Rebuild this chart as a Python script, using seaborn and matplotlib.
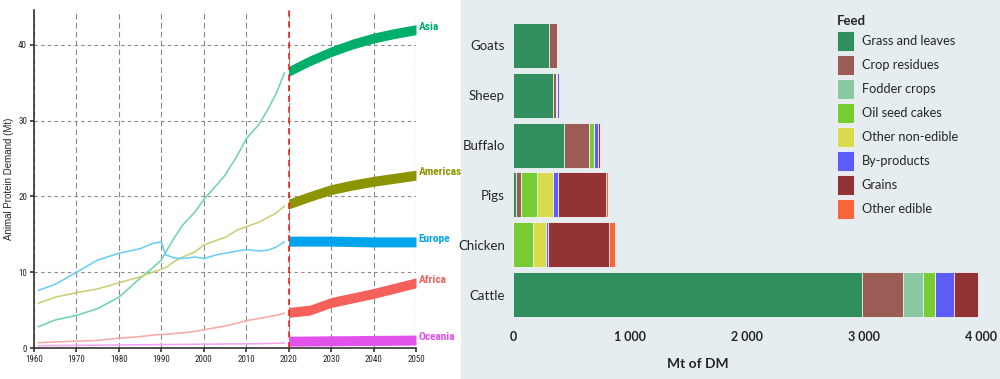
import numpy as np
import pandas as pd
import matplotlib
matplotlib.use("Agg")
import matplotlib.pyplot as plt
import seaborn as sns
from matplotlib.patches import Patch, Rectangle

# ---------------- Left chart data ----------------
hist_years = [1961, 1965, 1970, 1975, 1980, 1985, 1988, 1990, 1991, 1993, 1995,
              1998, 2000, 2003, 2005, 2008, 2010, 2013, 2015, 2017, 2019]
asia_hist = [2.8, 3.7, 4.3, 5.2, 6.7, 9.2, 10.6, 11.6, 12.6, 14.5, 16.2,
             18.0, 19.6, 21.5, 22.8, 25.5, 27.6, 29.5, 31.4, 33.5, 36.3]
americas_hist = [5.9, 6.7, 7.3, 7.8, 8.6, 9.4, 10.0, 10.4, 10.6, 11.4, 12.0,
                 12.7, 13.6, 14.2, 14.6, 15.6, 16.0, 16.6, 17.2, 17.8, 18.7]
europe_hist = [7.6, 8.4, 10.0, 11.6, 12.5, 13.1, 13.8, 14.0, 12.3, 11.9, 11.8,
               12.0, 11.8, 12.3, 12.5, 12.8, 13.0, 12.8, 12.9, 13.3, 14.0]
africa_hist = [0.7, 0.8, 0.9, 1.0, 1.3, 1.5, 1.7, 1.8, 1.8, 1.9, 2.0,
               2.2, 2.4, 2.7, 2.9, 3.3, 3.6, 3.9, 4.1, 4.3, 4.6]
oceania_hist = [0.3, 0.32, 0.35, 0.37, 0.4, 0.42, 0.44, 0.45, 0.45, 0.46, 0.47,
                0.49, 0.5, 0.52, 0.53, 0.54, 0.55, 0.57, 0.6, 0.62, 0.65]

proj_years = [2020, 2025, 2030, 2035, 2040, 2045, 2050]
asia_proj = [36.5, 37.9, 39.1, 40.1, 40.9, 41.5, 42.0]
americas_proj = [19.0, 20.0, 20.9, 21.5, 22.0, 22.4, 22.8]
europe_proj = [14.1, 14.1, 14.1, 14.05, 14.0, 14.0, 14.0]
africa_proj = [4.7, 5.0, 6.0, 6.6, 7.2, 7.9, 8.6]
oceania_proj = [0.9, 0.92, 0.95, 0.97, 1.0, 1.02, 1.05]

regions = ["Asia", "Americas", "Europe", "Africa", "Oceania"]
left_xticks = [1960, 1970, 1980, 1990, 2000, 2010, 2020, 2030, 2040, 2050]
left_yticks = [0, 10, 20, 30, 40]

# ---------------- Right chart data ----------------
animals = ["Goats", "Sheep", "Buffalo", "Pigs", "Chicken", "Cattle"]
feeds = ["Grass and leaves", "Crop residues", "Fodder crops", "Oil seed cakes",
         "Other non-edible", "By-products", "Grains", "Other edible"]
grass = [308, 337, 437, 23, 0, 2984]
crop_residues = [62, 30, 212, 43, 0, 348]
fodder_crops = [5, 0, 0, 0, 0, 171]
oil_seed_cakes = [5, 8, 40, 140, 171, 103]
other_non_edible = [0, 0, 0, 132, 109, 0]
by_products = [3, 14, 34, 43, 17, 166]
grains = [5, 4, 22, 411, 522, 208]
other_edible = [0, 0, 0, 22, 54, 0]
right_xticks = [0, 1000, 2000, 3000, 4000]
right_xticklabels = ["0", "1 000", "2 000", "3 000", "4 000"]

# ---------------- Styles ----------------
sns.set_style("white")
plt.rcParams["font.family"] = ["Lato", "DejaVu Sans"]

BG = "#e5edf0"
strong = {"Asia": "#00ae6b", "Americas": "#8c9400", "Europe": "#00a4ec",
          "Africa": "#f4605a", "Oceania": "#e052ea"}
light = {"Asia": "#6fd5ac", "Americas": "#cdcd78", "Europe": "#6ccdf2",
         "Africa": "#f6aaa5", "Oceania": "#f0a4f2"}
feed_colors = ["#318f5f", "#9a5c54", "#88c9a1", "#78cc33",
               "#d8dc4c", "#5c5cfa", "#933336", "#f7663a"]
narrow = ["Roboto Condensed", "Liberation Sans", "DejaVu Sans"]

fig = plt.figure(figsize=(10, 3.79), dpi=100)
fig.patches.append(Rectangle((0.461, 0), 0.539, 1, transform=fig.transFigure,
                             facecolor=BG, edgecolor="none", zorder=-10))

# ---------------- Left chart ----------------
axL = fig.add_axes([0.034, 31 / 379, 0.382, 338 / 379])
hist = {"Asia": asia_hist, "Americas": americas_hist, "Europe": europe_hist,
        "Africa": africa_hist, "Oceania": oceania_hist}
proj = {"Asia": asia_proj, "Americas": americas_proj, "Europe": europe_proj,
        "Africa": africa_proj, "Oceania": oceania_proj}
hist_df = pd.DataFrame({
    "year": hist_years * len(regions),
    "value": sum((hist[r] for r in regions), []),
    "region": sum(([r] * len(hist_years) for r in regions), []),
})
sns.lineplot(data=hist_df, x="year", y="value", hue="region", palette=light,
             linewidth=1.15, legend=False, ax=axL, zorder=3)
for r in regions:
    v = np.array(proj[r])
    axL.fill_between(proj_years, v - 0.66, v + 0.66, color=strong[r], lw=0, zorder=4)
    axL.text(2050.6, v[-1] + 0.4, r, color=strong[r], fontweight="bold",
             fontsize=8.2, va="center", ha="left", family=narrow, clip_on=False)

axL.set_xlim(1960, 2050)
axL.set_ylim(0, 44.6)
axL.set_xticks(left_xticks)
axL.set_yticks(left_yticks)
axL.xaxis.grid(True, ls=(0, (5, 3)), color="#8a8a8a", lw=0.8)
axL.yaxis.grid(True, ls=(0, (3, 3)), color="#8a8a8a", lw=0.8)
axL.axvline(2020, color="#ee1111", ls=(0, (4, 3)), lw=1.1, zorder=5)
for s in ["top", "right"]:
    axL.spines[s].set_visible(False)
for s in ["left", "bottom"]:
    axL.spines[s].set_color("#333333")
    axL.spines[s].set_linewidth(1.2)
axL.tick_params(axis="both", length=3, width=1.2, color="#333333",
                labelsize=6.5, pad=2, left=True, bottom=True)
for lab in axL.get_xticklabels() + axL.get_yticklabels():
    lab.set_family(narrow)
axL.set_xlabel("")
axL.set_ylabel("Animal Protein Demand (Mt)", fontsize=7,
               family=["Liberation Sans", "DejaVu Sans"])
axL.yaxis.set_label_coords(-0.052, 0.5)

# ---------------- Right chart ----------------
axR = fig.add_axes([0.5133, 0.1562, 0.479, 0.7905], facecolor=BG)
parts = [grass, crop_residues, fodder_crops, oil_seed_cakes, other_non_edible,
         by_products, grains, other_edible]
cum = np.cumsum(np.array(parts), axis=0)
for i in reversed(range(len(feeds))):
    sns.barplot(x=cum[i], y=animals, color=feed_colors[i], orient="h", width=0.9,
                saturation=1, edgecolor="#f2f5f5", linewidth=0.6, errorbar=None,
                ax=axR)
axR.set_xlim(0, 4100)
axR.set_ylim(5.5, -0.5)
axR.set_xticks(right_xticks)
axR.set_xticklabels(right_xticklabels, fontweight="bold", fontsize=9)
axR.tick_params(axis="x", length=0, pad=8)
axR.tick_params(axis="y", length=0, pad=6, labelsize=9.5)
for s in axR.spines.values():
    s.set_visible(False)
axR.set_xlabel("")
axR.set_ylabel("")
fig.text(0.698, 1 - 364 / 379, "Mt of DM", ha="center", va="center",
         fontweight="bold", fontsize=10)

handles = [Patch(facecolor=c, edgecolor="#f2f5f5", lw=0.6) for c in feed_colors]
leg = fig.legend(handles, feeds, loc="upper left", bbox_to_anchor=(0.837, 1 - 15 / 379),
                 frameon=False, title="Feed", fontsize=9.2, title_fontsize=9.5,
                 handlelength=1.32, handleheight=2.05, labelspacing=0.3,
                 handletextpad=0.6, borderpad=0, borderaxespad=0, alignment="left")
leg.get_title().set_fontweight("bold")

fig.savefig("out.png", dpi=100, facecolor="white")
